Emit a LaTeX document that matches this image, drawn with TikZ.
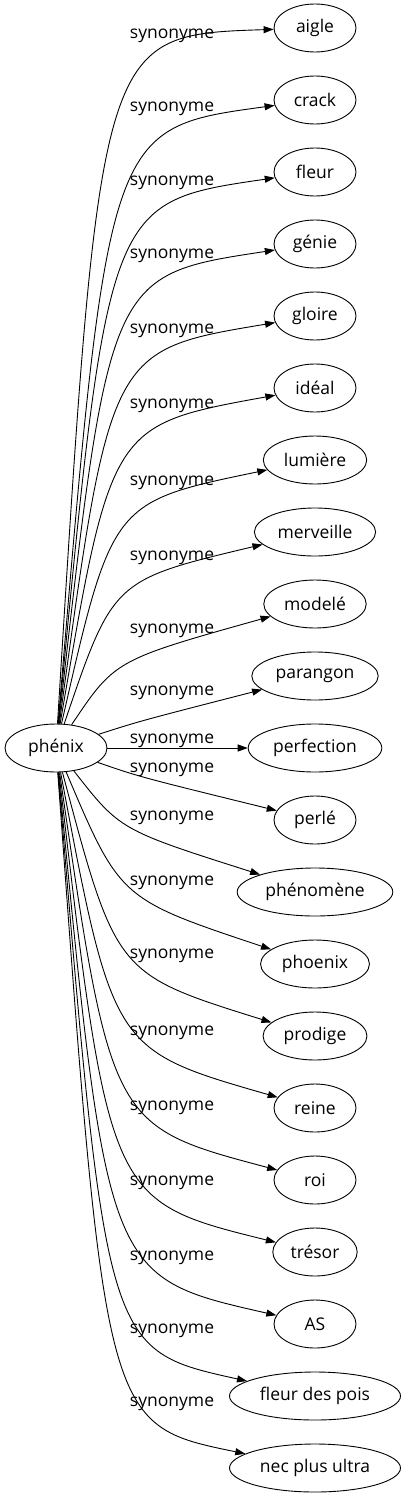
\documentclass[tikz,border=0pt]{standalone}
\usepackage{fontspec}
\setmainfont{Open Sans}
\usetikzlibrary{arrows.meta,shapes.geometric}

\begin{document}
\begin{tikzpicture}[
      x=1pt, y=-1pt,
      >={Triangle[length=10pt,width=7pt]},
      font=\fontsize{17.5}{21}\selectfont
    ]

    \tikzstyle{word} = [ellipse, draw, line width=0.9pt, minimum width=82pt, minimum height=48pt, inner xsep=5.4pt, inner ysep=3pt]
    \tikzstyle{syn} = [inner sep=0pt, anchor=base]
    \tikzstyle{edge} = [->, line width=0.9pt]

    \useasboundingbox (0,0) rectangle (405,1499);

    \node [word, minimum width=102pt] (phenix) at (56,748) {phénix};

    \node [word] (aigle) at (315,28) {aigle};
    \node [word] (crack) at (315,100) {crack};
    \node [word] (fleur) at (315,172) {fleur};
    \node [word] (genie) at (315,244) {génie};
    \node [word] (gloire) at (315,316) {gloire};
    \node [word] (ideal) at (315,388) {idéal};
    \node [word] (lumiere) at (315,460) {lumière};
    \node [word] (merveille) at (315,532) {merveille};
    \node [word] (modele) at (315,604) {modelé};
    \node [word] (parangon) at (315,676) {parangon};
    \node [word] (perfection) at (315,748) {perfection};
    \node [word] (perle) at (315,820) {perlé};
    \node [word] (phenomene) at (315,892) {phénomène};
    \node [word] (phoenix) at (315,964) {phoenix};
    \node [word] (prodige) at (315,1036) {prodige};
    \node [word] (reine) at (315,1108) {reine};
    \node [word] (roi) at (315,1180) {roi};
    \node [word] (tresor) at (315,1252) {trésor};
    \node [word] (as) at (315,1324) {AS};
    \node [word] (fleurdespois) at (315,1396) {fleur des pois};
    \node [word] (necplusultra) at (315,1468) {nec plus ultra};

    \node [syn] (aigle-syn) at (172,38) {synonyme};
    \node [syn] (crack-syn) at (172,111) {synonyme};
    \node [syn] (fleur-syn) at (172,185) {synonyme};
    \node [syn] (genie-syn) at (172,258) {synonyme};
    \node [syn] (gloire-syn) at (172,333) {synonyme};
    \node [syn] (ideal-syn) at (172,408) {synonyme};
    \node [syn] (lumiere-syn) at (172,485) {synonyme};
    \node [syn] (merveille-syn) at (172,560) {synonyme};
    \node [syn] (modele-syn) at (172,633) {synonyme};
    \node [syn] (parangon-syn) at (172,695) {synonyme};
    \node [syn] (perfection-syn) at (172,743) {synonyme};
    \node [syn] (perle-syn) at (172,772) {synonyme};
    \node [syn] (phenomene-syn) at (172,820) {synonyme};
    \node [syn] (phoenix-syn) at (172,885) {synonyme};
    \node [syn] (prodige-syn) at (172,958) {synonyme};
    \node [syn] (reine-syn) at (172,1035) {synonyme};
    \node [syn] (roi-syn) at (172,1110) {synonyme};
    \node [syn] (tresor-syn) at (172,1185) {synonyme};
    \node [syn] (as-syn) at (172,1260) {synonyme};
    \node [syn] (fleurdespois-syn) at (172,1333) {synonyme};
    \node [syn] (necplusultra-syn) at (172,1406) {synonyme};

    \draw [edge] (phenix) .. controls (100,35) .. (aigle);
    \draw [edge] (phenix) .. controls (108,128) .. (crack);
    \draw [edge] (phenix) .. controls (108,202) .. (fleur);
    \draw [edge] (phenix) .. controls (109,275) .. (genie);
    \draw [edge] (phenix) .. controls (110,350) .. (gloire);
    \draw [edge] (phenix) .. controls (111,425) .. (ideal);
    \draw [edge] (phenix) .. controls (112,502) .. (lumiere);
    \draw [edge] (phenix) .. controls (113,580) .. (merveille);
    \draw [edge] (phenix) .. controls (115,660) .. (modele);
    \draw [edge] (phenix) .. controls (140,721) .. (parangon);
    \draw [edge] (phenix) .. controls (172,748) .. (perfection);
    \draw [edge] (phenix) .. controls (140,777) .. (perle);
    \draw [edge] (phenix) .. controls (120,830) .. (phenomene);
    \draw [edge] (phenix) .. controls (120,899) .. (phoenix);
    \draw [edge] (phenix) .. controls (116,974) .. (prodige);
    \draw [edge] (phenix) .. controls (113,1050) .. (reine);
    \draw [edge] (phenix) .. controls (111,1126) .. (roi);
    \draw [edge] (phenix) .. controls (109,1201) .. (tresor);
    \draw [edge] (phenix) .. controls (107,1277) .. (as);
    \draw [edge] (phenix) .. controls (106,1350) .. (fleurdespois);
    \draw [edge] (phenix) .. controls (105,1425) .. (necplusultra);

\end{tikzpicture}
\end{document}
